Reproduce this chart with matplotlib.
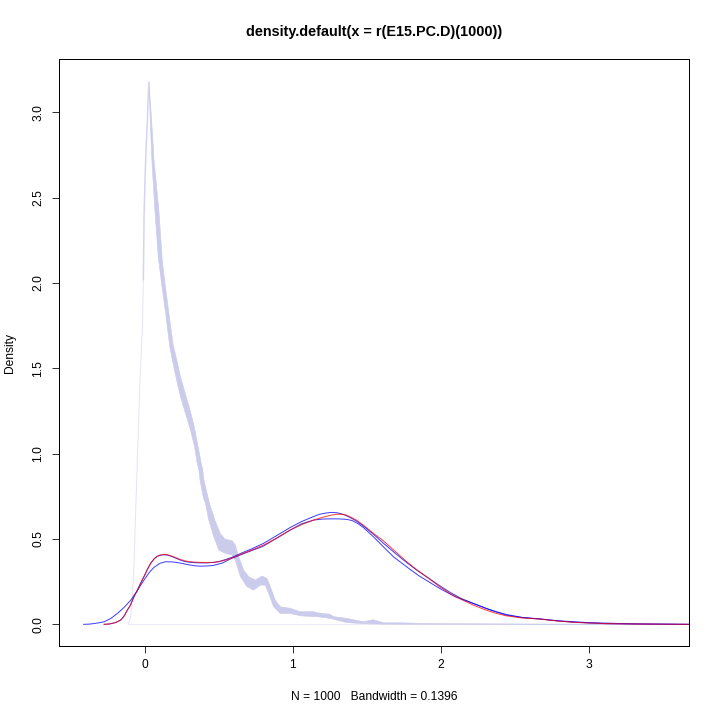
import matplotlib
matplotlib.use("Agg")
import matplotlib.pyplot as plt
import numpy as np

plt.rcParams['font.family'] = ['Liberation Sans', 'DejaVu Sans']

# ---- data ----
# simulated-density band (outer / upper edge of the falling part)
band_upper_x = [0.027, 0.045, 0.061, 0.094, 0.117, 0.133, 0.162, 0.19, 0.215, 0.24, 0.27, 0.30, 0.33,
                0.355, 0.38, 0.391, 0.398, 0.436, 0.472, 0.51, 0.544, 0.589, 0.611, 0.633, 0.667, 0.701,
                0.746, 0.791, 0.825, 0.847, 0.88, 0.914, 0.982, 1.049, 1.139, 1.162, 1.25, 1.274, 1.364,
                1.476, 1.543, 1.61, 1.723, 1.85, 2.0, 2.3, 2.6, 3.0, 3.676]
band_upper_y = [3.177, 2.95, 2.72, 2.425, 2.13, 2.015, 1.82, 1.64, 1.55, 1.45, 1.36, 1.27, 1.17,
                1.06, 0.943, 0.904, 0.845, 0.708, 0.611, 0.53, 0.498, 0.49, 0.464, 0.396, 0.318, 0.279,
                0.259, 0.283, 0.269, 0.22, 0.142, 0.103, 0.094, 0.074, 0.074, 0.068, 0.059, 0.045, 0.035,
                0.015, 0.027, 0.009, 0.009, 0.006, 0.004, 0.003, 0.002, 0.001, 0.0]
# inner / lower edge of the band
band_lower_x = [0.027, 0.036, 0.045, 0.065, 0.09, 0.112, 0.14, 0.168, 0.19, 0.214, 0.24, 0.274, 0.308,
                0.335, 0.353, 0.365, 0.372, 0.395, 0.409, 0.431, 0.465, 0.499, 0.544, 0.589, 0.611,
                0.645, 0.69, 0.734, 0.78, 0.813, 0.836, 0.869, 0.914, 0.982, 1.049, 1.139, 1.162, 1.25,
                1.364, 1.476, 1.61, 2.0, 3.676]
band_lower_y = [3.177, 2.95, 2.75, 2.45, 2.15, 2.0, 1.82, 1.625, 1.528, 1.43, 1.333, 1.235, 1.138,
                1.04, 0.943, 0.9, 0.845, 0.74, 0.708, 0.611, 0.513, 0.435, 0.416, 0.406, 0.376,
                0.279, 0.22, 0.2, 0.23, 0.23, 0.181, 0.103, 0.064, 0.064, 0.05, 0.045, 0.045, 0.035,
                0.01, 0.004, 0.001, 0.0, 0.0]
# rising edge of the band
rise_x = [-0.115, -0.1, -0.09, -0.08, -0.074, -0.056, -0.034, -0.018, -0.011, -0.006, 0.0, 0.007,
          0.016, 0.022, 0.027]
rise_y = [0.0, 0.03, 0.1, 0.25, 0.36, 0.845, 1.43, 1.72, 2.02, 2.4, 2.6, 2.78, 2.95, 3.1, 3.177]
base_x = [-0.115, 3.676]
base_y = [0.0, 0.0]

red_x = [-0.276, -0.24, -0.2, -0.164, -0.14, -0.119, -0.1, -0.085, -0.07, -0.051, -0.03, -0.007, 0.015,
         0.038, 0.06, 0.08, 0.1, 0.128, 0.155, 0.18, 0.21, 0.24, 0.27, 0.3, 0.34, 0.375, 0.42, 0.463,
         0.5, 0.55, 0.6, 0.645, 0.72, 0.80, 0.89, 0.98, 1.06, 1.14, 1.18, 1.22, 1.26, 1.296, 1.33, 1.36,
         1.386, 1.43, 1.476, 1.544, 1.61, 1.7, 1.768, 1.836, 1.92, 1.992, 2.06, 2.14, 2.217, 2.3, 2.37,
         2.44, 2.55, 2.667, 2.78, 2.89, 3.0, 3.116, 3.3, 3.5, 3.676]
red_y = [0.0, 0.002, 0.01, 0.025, 0.05, 0.084, 0.11, 0.14, 0.17, 0.2, 0.24, 0.279, 0.32,
         0.357, 0.382, 0.398, 0.406, 0.41, 0.407, 0.4, 0.39, 0.38, 0.372, 0.367, 0.364, 0.363, 0.362, 0.363,
         0.367, 0.378, 0.393, 0.41, 0.435, 0.464, 0.505, 0.552, 0.585, 0.611, 0.622, 0.632, 0.64, 0.645,
         0.645, 0.64, 0.63, 0.61, 0.581, 0.533, 0.49, 0.42, 0.367, 0.32, 0.268, 0.22, 0.18, 0.145, 0.113,
         0.085, 0.065, 0.05, 0.037, 0.031, 0.02, 0.012, 0.008, 0.004, 0.002, 0.001, 0.0]

blueA_x = red_x
blueA_y = [0.0, 0.002, 0.01, 0.025, 0.05, 0.084, 0.11, 0.14, 0.17, 0.2, 0.24, 0.279, 0.32,
           0.357, 0.382, 0.397, 0.404, 0.408, 0.405, 0.398, 0.387, 0.376, 0.368, 0.364, 0.361, 0.36, 0.36,
           0.363, 0.368, 0.381, 0.397, 0.415, 0.442, 0.474, 0.52, 0.567, 0.603, 0.632, 0.645, 0.652, 0.656,
           0.654, 0.647, 0.637, 0.626, 0.605, 0.576, 0.528, 0.476, 0.41, 0.362, 0.318, 0.268, 0.226, 0.188,
           0.15, 0.123, 0.095, 0.075, 0.058, 0.04, 0.032, 0.021, 0.013, 0.008, 0.004, 0.002, 0.001, 0.0]

blueB_x = [-0.415, -0.38, -0.35, -0.31, -0.276, -0.23, -0.186, -0.14, -0.096, -0.05, -0.007, 0.03,
           0.061, 0.1, 0.139, 0.18, 0.22, 0.26, 0.3, 0.34, 0.375, 0.42, 0.46, 0.52, 0.577, 0.64, 0.7,
           0.8, 0.89, 0.98, 1.06, 1.14, 1.2, 1.25, 1.31, 1.364, 1.4, 1.44, 1.476, 1.51, 1.544, 1.61,
           1.68, 1.768, 1.85, 1.992, 2.1, 2.217, 2.33, 2.44, 2.55, 2.667, 2.8, 3.0, 3.2, 3.4, 3.676]
blueB_y = [0.0, 0.001, 0.004, 0.009, 0.015, 0.035, 0.064, 0.1, 0.142, 0.2, 0.259, 0.305,
           0.334, 0.357, 0.367, 0.366, 0.362, 0.355, 0.348, 0.343, 0.341, 0.342, 0.345, 0.358, 0.383,
           0.405, 0.425, 0.458, 0.505, 0.552, 0.59, 0.611, 0.617, 0.618, 0.618, 0.615, 0.608, 0.59,
           0.567, 0.54, 0.513, 0.455, 0.395, 0.337, 0.285, 0.21, 0.16, 0.123, 0.085, 0.054, 0.04,
           0.031, 0.02, 0.01, 0.005, 0.002, 0.0]

x_ticks = [0, 1, 2, 3]
y_ticks = [0.0, 0.5, 1.0, 1.5, 2.0, 2.5, 3.0]
y_ticklabels = ["0.0", "0.5", "1.0", "1.5", "2.0", "2.5", "3.0"]
title = "density.default(x = r(E15.PC.D)(1000))"
xlabel = "N = 1000   Bandwidth = 0.1396"
ylabel = "Density"

# ---- figure ----
fig = plt.figure(figsize=(10, 10), dpi=72)
W = H = 720.0
left, right, top, bottom = 59, 689, 58.5, 646
ax = fig.add_axes([left / W, 1 - bottom / H, (right - left) / W, (bottom - top) / H])

band_col = '#CBCBEC'
ax.plot(base_x, base_y, color='#ECECF8', lw=1.0, zorder=1)
ax.fill(band_upper_x + band_lower_x[::-1], band_upper_y + band_lower_y[::-1],
        color=band_col, lw=0.6, ec=band_col, zorder=2)
rx = np.array(rise_x); ry = np.array(rise_y)
lo = ry <= 2.02
ax.plot(rx[lo], ry[lo], color='#E4E4F6', lw=1.0, zorder=2)
hi = ry >= 2.02
ax.plot(rx[hi], ry[hi], color='#D4D4F0', lw=1.5, zorder=2)

ax.plot(blueB_x, blueB_y, color='#0000FF', lw=1.0, alpha=0.75, zorder=3)
ax.plot(blueA_x, blueA_y, color='#0000FF', lw=1.0, alpha=0.75, zorder=3)
ax.plot(red_x, red_y, color='#FF0000', lw=1.0, alpha=0.75, zorder=4)

ax.set_xlim(-0.581, 3.676)
ax.set_ylim(-0.127, 3.316)
ax.set_xticks(x_ticks)
ax.set_xticklabels([str(t) for t in x_ticks])
ax.set_yticks(y_ticks)
ax.set_yticklabels(y_ticklabels, rotation=90, va='center')
ax.tick_params(axis='both', direction='out', length=7, width=0.8, labelsize=12, colors='black')
ax.tick_params(axis='x', pad=6)
ax.tick_params(axis='y', pad=8)
for s in ax.spines.values():
    s.set_linewidth(1.0)
    s.set_color('black')

fig.text(374 / W, 1 - 32 / H, title, ha='center', va='center', fontsize=14.4, fontweight='bold')
fig.text(374 / W, 1 - 697 / H, xlabel, ha='center', va='center', fontsize=12)
fig.text(10 / W, 1 - 353 / H, ylabel, ha='center', va='center', rotation=90, fontsize=12)

fig.savefig('out.png', dpi=72, facecolor='white')
